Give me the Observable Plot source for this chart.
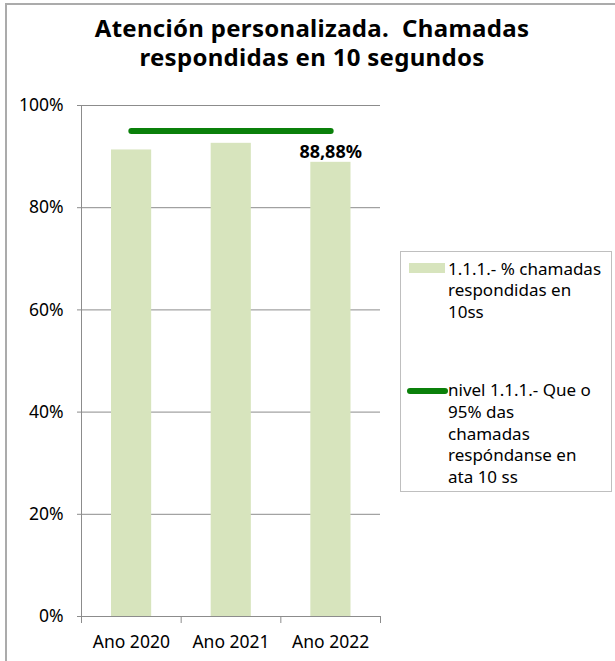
<!DOCTYPE html>
<html><head><meta charset="utf-8">
<script src="https://cdn.jsdelivr.net/npm/d3@7"></script>
<script src="https://cdn.jsdelivr.net/npm/@observablehq/plot@0.6"></script>
<style>
body{margin:0;background:#fff;}
#wrap{position:relative;width:615px;height:661px;overflow:hidden;font-family:"Noto Sans",sans-serif;color:#000;}
#frame{position:absolute;left:5px;top:3px;width:700px;height:700px;border-left:2px solid #ababab;border-top:2px solid #ababab;}
#title{position:absolute;left:12px;top:13px;width:600px;text-align:center;font-weight:bold;font-size:24px;line-height:29px;letter-spacing:0.3px;white-space:pre;}
#chart{position:absolute;left:0;top:0;}
#legend{position:absolute;left:400px;top:251px;width:212px;height:241px;border:1px solid #bfbfbf;box-sizing:border-box;}
.lt{position:absolute;left:47px;font-size:17px;line-height:21.7px;white-space:nowrap;}
.sw{position:absolute;}
</style></head><body>
<div id="wrap">
<div id="frame"></div>
<div id="chart"></div>
<div id="title"></div>
<div id="legend"></div>
</div>
<script>
const titleLines = ["Atención personalizada.  Chamadas", "respondidas en 10 segundos"];
const years = ["Ano 2020", "Ano 2021", "Ano 2022"];
const values = [91.3, 92.6, 88.88];
const target = [95, 95, 95];
const valueLabels = ["", "", "88,88%"];
const yTicks = [0, 20, 40, 60, 80, 100];
const legendBar = ["1.1.1.- % chamadas", "respondidas en", "10ss"];
const legendLine = ["nivel 1.1.1.- Que o", "95% das", "chamadas", "respóndanse en", "ata 10 ss"];

const barColor = "#d7e4bd";
const lineColor = "#0a800a";
const gridColor = "#8c8c8c";

document.getElementById("title").textContent = titleLines.join("\n");

const data = years.map((y, i) => ({i, year: y, value: values[i], target: target[i], label: valueLabels[i]}));

const chart = Plot.plot({
  width: 615,
  height: 661,
  marginLeft: 81,
  marginRight: 235,
  marginTop: 105,
  marginBottom: 45,
  style: {fontFamily: "Noto Sans", fontSize: "17.5px", background: "transparent", color: "#000"},
  x: {type: "linear", domain: [0, years.length], axis: null},
  y: {domain: [0, 100], axis: null},
  marks: [
    Plot.gridY(yTicks.filter(d => d > 0), {stroke: gridColor, strokeOpacity: 1}),
    Plot.axisY({ticks: yTicks, tickSize: 4, tickPadding: 14, tickFormat: d => d + "%", stroke: gridColor, fill: "#000", label: null, fontSize: 17.5}),
    Plot.rectY(data, {x1: d => d.i, x2: d => d.i + 1, y: "value", fill: barColor, insetLeft: 30, insetRight: 29.5}),
    Plot.ruleX([0], {stroke: gridColor}),
    Plot.ruleY([0], {stroke: gridColor}),
    Plot.axisX({ticks: d3.range(years.length + 1), tickSize: 7, tickFormat: () => "", stroke: gridColor, label: null}),
    Plot.text(data, {x: d => d.i + 0.5, y: 0, text: "year", dy: 26, fontSize: 17.5, fill: "#000"}),
    Plot.lineY(data, {x: d => d.i + 0.5, y: "target", stroke: lineColor, strokeWidth: 6, strokeLinecap: "round"}),
    Plot.text(data, {x: d => d.i + 0.5, y: "value", text: "label", dy: -10, fontSize: 18, fontWeight: "bold", fill: "#000"})
  ]
});
document.getElementById("chart").appendChild(chart);

const lg = document.getElementById("legend");
function addText(lines, top) {
  const d = document.createElement("div");
  d.className = "lt";
  d.style.top = top + "px";
  d.innerHTML = lines.map(s => s.replace(/&/g, "&amp;").replace(/</g, "&lt;")).join("<br>");
  lg.appendChild(d);
}
const s1 = document.createElement("div");
s1.className = "sw";
Object.assign(s1.style, {left: "8px", top: "10.7px", width: "36px", height: "10.6px", background: barColor});
lg.appendChild(s1);
addText(legendBar, 5.6);
const s2 = document.createElement("div");
s2.className = "sw";
Object.assign(s2.style, {left: "5.7px", top: "135.7px", width: "41px", height: "6px", background: lineColor, borderRadius: "3px"});
lg.appendChild(s2);
addText(legendLine, 127.3);
</script>
</body></html>
